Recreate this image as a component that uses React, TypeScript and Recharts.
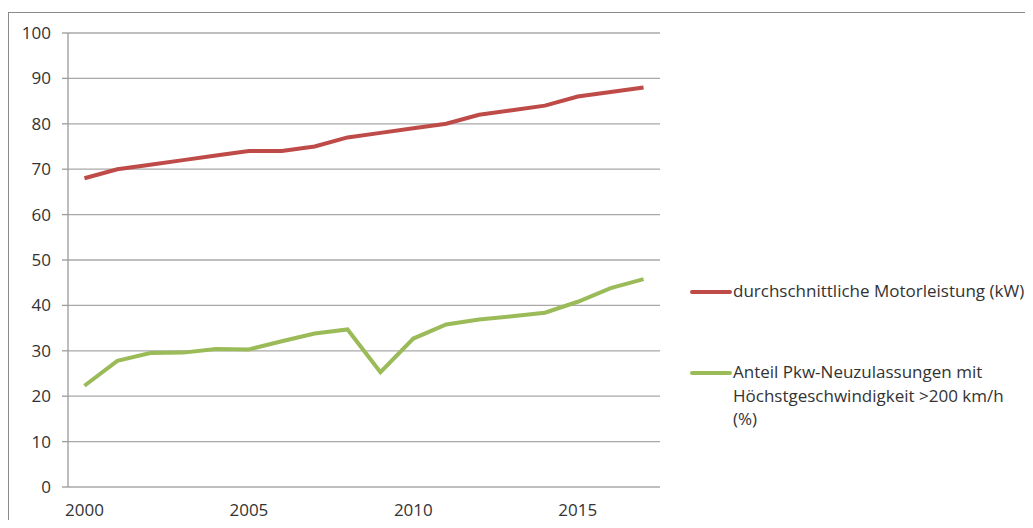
import { LineChart, Line, XAxis, YAxis, CartesianGrid, Legend } from 'recharts';

const years = [2000, 2001, 2002, 2003, 2004, 2005, 2006, 2007, 2008, 2009, 2010, 2011, 2012, 2013, 2014, 2015, 2016, 2017];
// durchschnittliche Motorleistung (kW)
const motorleistung = [68, 70, 71, 72, 73, 74, 74, 75, 77, 78, 79, 80, 82, 83, 84, 86, 87, 88];
// Anteil Neuzulassungen > 200 km/h (%)
const anteilSchnell = [22.3, 27.8, 29.5, 29.6, 30.4, 30.3, 32.1, 33.8, 34.7, 25.3, 32.7, 35.8, 36.9, 37.6, 38.4, 40.8, 43.8, 45.8];

const yTicks = [0, 10, 20, 30, 40, 50, 60, 70, 80, 90, 100];
const xLabelTicks = [2000, 2005, 2010, 2015];

const nameMotor = 'durchschnittliche Motorleistung (kW)';
const nameAnteil = 'Anteil Pkw-Neuzulassungen mit Höchstgeschwindigkeit >200 km/h (%)';
const anteilLines = ['Anteil Pkw-Neuzulassungen mit', 'Höchstgeschwindigkeit >200 km/h', '(%)'];

const RED = '#be4b48';
const GREEN = '#9bbb59';
const FONT = '"Open Sans", sans-serif';
const TEXT = '#333333';

const data = years.map((year, i) => ({ year, motor: motorleistung[i], anteil: anteilSchnell[i] }));
// Trennstriche zwischen den Jahren
const bandTicks = [...years.map((y) => y - 0.5), years[years.length - 1] + 0.5];

function LegendBox() {
    const row = (color: string, lines: string[], top: number) => (
        <div style={{ position: 'absolute', left: 0, top, display: 'flex', alignItems: 'flex-start' }}>
            <div style={{ width: 42, height: 4, background: color, marginTop: 11, borderRadius: 2 }} />
            <div style={{ marginLeft: 1, lineHeight: '23.5px', whiteSpace: 'nowrap' }}>
                {lines.map((l) => (
                    <div key={l}>{l}</div>
                ))}
            </div>
        </div>
    );
    return (
        <div style={{ position: 'relative', width: 343, height: 160, fontFamily: FONT, fontSize: 17, color: TEXT }}>
            {row(RED, [nameMotor], 0)}
            {row(GREEN, anteilLines, 81)}
        </div>
    );
}

export default function App() {
    return (
        <div style={{ position: 'relative', width: 1033, height: 528, margin: -8, overflow: 'hidden', background: '#fff' }}>
            <div
                style={{
                    position: 'absolute',
                    left: 8,
                    top: 12,
                    width: 1040,
                    height: 530,
                    borderLeft: '1px solid #8a8a8a',
                    borderTop: '1px solid #8a8a8a',
                }}
            />
            <div style={{ position: 'absolute', left: 0, top: 0 }}>
                <LineChart width={1033} height={528} data={data} margin={{ top: 33, right: 373, bottom: 11, left: 8 }}>
                    <CartesianGrid vertical={false} stroke="#a8a8a8" strokeWidth={1.3} />
                    <XAxis
                        xAxisId="bands"
                        dataKey="year"
                        type="number"
                        domain={[1999.5, 2017.5]}
                        ticks={bandTicks}
                        tick={false}
                        tickSize={6}
                        height={0}
                        stroke="#9a9a9a"
                        strokeWidth={1.3}
                    />
                    <XAxis
                        xAxisId="labels"
                        dataKey="year"
                        type="number"
                        domain={[1999.5, 2017.5]}
                        ticks={xLabelTicks}
                        axisLine={false}
                        tickLine={false}
                        tickSize={0}
                        tickMargin={17}
                        height={30}
                        tick={{ fill: TEXT, fontSize: 17, fontFamily: FONT }}
                    />
                    <YAxis
                        domain={[0, 100]}
                        ticks={yTicks}
                        width={60}
                        tickSize={6}
                        tickMargin={11}
                        stroke="#9a9a9a"
                        strokeWidth={1.3}
                        tick={{ fill: TEXT, fontSize: 17, fontFamily: FONT }}
                    />
                    <Legend
                        layout="vertical"
                        align="center"
                        verticalAlign="middle"
                        content={() => <LegendBox />}
                        wrapperStyle={{ left: 690, top: 279, width: 343 }}
                    />
                    <Line
                        xAxisId="bands"
                        dataKey="motor"
                        name={nameMotor}
                        stroke={RED}
                        strokeWidth={4}
                        dot={false}
                        type="linear"
                        isAnimationActive={false}
                    />
                    <Line
                        xAxisId="bands"
                        dataKey="anteil"
                        name={nameAnteil}
                        stroke={GREEN}
                        strokeWidth={4}
                        dot={false}
                        type="linear"
                        isAnimationActive={false}
                    />
                </LineChart>
            </div>
        </div>
    );
}
